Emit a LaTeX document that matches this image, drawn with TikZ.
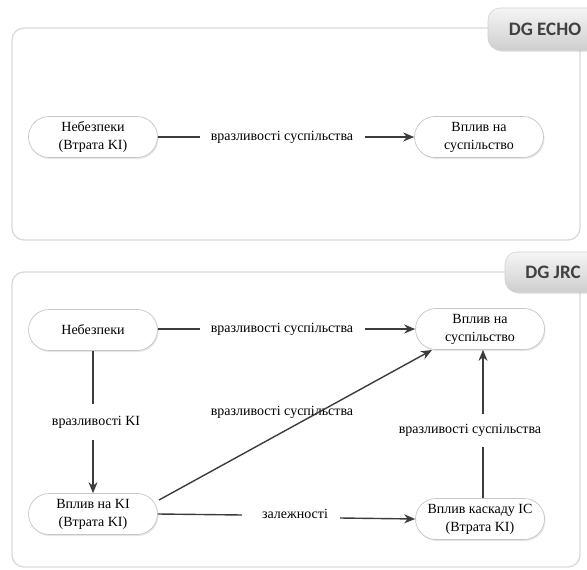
\documentclass[tikz,border=0pt]{standalone}
\usepackage{fontspec}
\setmainfont{Liberation Serif}
\newfontfamily\tabfont{Carlito}
\usetikzlibrary{shapes.misc,arrows.meta,shadows}
\definecolor{panelc}{HTML}{DADADA}
\definecolor{arrc}{HTML}{3C3C3C}
\tikzset{
  every picture/.style={x=1pt,y=-1pt},
  panel/.style={draw=panelc,line width=1.3pt,rounded corners=12pt},
  tabbox/.style={rounded corners=12pt,top color=gray!8,bottom color=gray!38,draw=gray!35,line width=0.6pt,drop shadow={opacity=0.3,shadow xshift=1.5pt,shadow yshift=-1.5pt}},
  tabtext/.style={font=\tabfont\bfseries\fontsize{19}{22}\selectfont,text=black!75},
  proc/.style={rounded rectangle,draw=gray!45,fill=white,line width=0.7pt,minimum width=133pt,minimum height=41pt,align=center,font=\fontsize{14}{18}\selectfont,inner sep=2pt,drop shadow={opacity=0.2,shadow xshift=1pt,shadow yshift=-1.5pt}},
  lbl/.style={font=\fontsize{14}{17}\selectfont,inner sep=1pt},
  conn/.style={draw=arrc,line width=1.4pt},
  arr/.style={conn,-{Stealth[length=11pt,width=9pt]}}
}
\begin{document}
\begin{tikzpicture}
\useasboundingbox (0,0) rectangle (587,570);
\begin{scope}
\clip (0,0) rectangle (587,570);
% top panel
\draw[panel] (12,28) rectangle (580,240);
\path[tabbox] (488,8) rectangle (605,50);
\node[tabtext] (echo) at (545,29) {DG ECHO};
% bottom panel
\draw[panel] (12,272) rectangle (580,567);
\path[tabbox] (505,252) rectangle (605,292);
\node[tabtext] (jrc) at (553,272) {DG JRC};
\end{scope}
% top nodes
\node[proc] (h1) at (93,137) {Небезпеки\\(Втрата KI)};
\node[proc] (s1) at (479,137) {Вплив на\\суспільство};
\node[lbl] (l1) at (282,137) {вразливості суспільства};
\draw[conn] (h1.east) -- (200,137);
\draw[arr] (365,137) -- (s1.west);
% bottom nodes
\node[proc] (h2) at (93,330) {Небезпеки};
\node[proc] (s2) at (480,329) {Вплив на\\суспільство};
\node[proc] (k2) at (93,514) {Вплив на KI\\(Втрата KI)};
\node[proc] (c2) at (480,519) {Вплив каскаду IC\\(Втрата KI)};
\node[lbl] (l2) at (282,329) {вразливості суспільства};
\node[lbl] (l3) at (96,422) {вразливості KI};
\node[lbl] (l4) at (282,412) {вразливості суспільства};
\node[lbl] (l5) at (470,430) {вразливості суспільства};
\node[lbl] (l6) at (295,514) {залежності};
\coordinate (a1) at (200,329);
\coordinate (a2) at (365,329);
\draw[conn] (h2.east |- a1) -- (a1);
\draw[arr] (a2) -- (s2.west |- a2);
\coordinate (b1) at (93,404);
\coordinate (b2) at (93,440);
\draw[conn] (h2.south) -- (b1);
\draw[arr] (b2) -- (k2.north);
\coordinate (d1) at (159,500);
\coordinate (d2) at (432,350);
\draw[arr] (d1) -- (d2);
\coordinate (e1) at (483,447);
\coordinate (e2) at (483,414);
\draw[conn] (c2.north -| e1) -- (e1);
\draw[arr] (e2) -- (s2.south -| e2);
\coordinate (f1) at (242,515);
\coordinate (f2) at (340,518);
\draw[conn] (k2.east) -- (f1);
\draw[arr] (f2) -- (c2.west);
\end{tikzpicture}
\end{document}
